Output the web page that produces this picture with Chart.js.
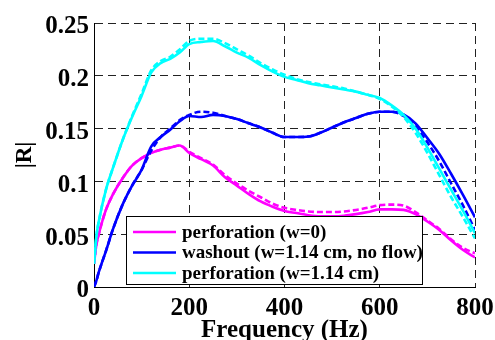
<!DOCTYPE html>
<html><head><meta charset="utf-8">
<script src="https://cdn.jsdelivr.net/npm/chart.js@4"></script>
<style>html,body{margin:0;padding:0;background:#fff}canvas{display:block}</style>
</head><body>
<canvas id="c" width="495" height="340"></canvas>
<script>
const freqHz = [0,5,10,25,40,60,80,100,120,140,160,180,200,225,250,275,300,325,350,375,400,425,450,475,500,525,550,575,600,625,650,675,700,725,750,775,800];

const perfW0Solid   = [0.022,0.040,0.050,0.073,0.088,0.103,0.115,0.122,0.127,0.130,0.132,0.134,0.127,0.121,0.115,0.104,0.096,0.088,0.081,0.076,0.072,0.070,0.068,0.067,0.067,0.0675,0.069,0.071,0.0735,0.0735,0.073,0.069,0.062,0.054,0.044,0.035,0.028];
const perfW0Dashed  = [0.022,0.040,0.050,0.073,0.088,0.103,0.115,0.122,0.127,0.130,0.132,0.134,0.128,0.122,0.116,0.106,0.098,0.091,0.085,0.079,0.075,0.073,0.0715,0.071,0.071,0.0715,0.073,0.075,0.0775,0.078,0.077,0.071,0.063,0.055,0.045,0.037,0.032];
const washSolid     = [0.000,0.006,0.014,0.034,0.055,0.078,0.096,0.111,0.133,0.142,0.149,0.157,0.162,0.161,0.163,0.162,0.159,0.155,0.151,0.146,0.142,0.142,0.1425,0.146,0.151,0.156,0.160,0.164,0.166,0.166,0.1635,0.155,0.141,0.126,0.107,0.087,0.066];
const washDashed    = [0.000,0.006,0.014,0.034,0.055,0.078,0.096,0.111,0.129,0.142,0.150,0.158,0.163,0.166,0.165,0.162,0.159,0.155,0.151,0.146,0.142,0.142,0.1425,0.146,0.151,0.156,0.160,0.164,0.166,0.166,0.162,0.152,0.137,0.119,0.098,0.077,0.054];
const perfW114Solid = [0.022,0.048,0.062,0.092,0.113,0.139,0.161,0.181,0.203,0.212,0.216,0.222,0.230,0.232,0.233,0.228,0.222,0.217,0.210,0.204,0.199,0.196,0.193,0.191,0.189,0.187,0.185,0.182,0.179,0.172,0.163,0.150,0.132,0.112,0.092,0.072,0.051];
const perfW114Dashed= [0.022,0.048,0.062,0.092,0.113,0.139,0.162,0.183,0.205,0.214,0.218,0.225,0.233,0.235,0.235,0.231,0.225,0.219,0.212,0.206,0.201,0.197,0.194,0.192,0.190,0.188,0.185,0.182,0.178,0.171,0.161,0.146,0.127,0.106,0.085,0.066,0.046];

const legendLabels = ['perforation (w=0)', 'washout (w=1.14 cm, no flow)', 'perforation (w=1.14 cm)'];
const xTickValues = [0,200,400,600,800];
const xTickLabels = ['0','200','400','600','800'];
const yTickValues = [0,0.05,0.1,0.15,0.2,0.25];
const yTickLabels = ['0','0.05','0.1','0.15','0.2','0.25'];
const xTitle = 'Frequency (Hz)';
const yTitle = '|R|';

const MAG = '#ff00ff', BLUE = '#0000ff', CYAN = '#00ffff';
const SERIF = '"Liberation Serif", "Times New Roman", serif';

function pts(ys){ return freqHz.map((x,i)=>({x:x, y:ys[i]})); }
function ds(label, ys, color, dashed, inLegend){
  return {label, data: pts(ys), borderColor: color, backgroundColor: color,
    borderWidth: 2.6, borderDash: dashed ? [6,3] : [], pointRadius: 0,
    cubicInterpolationMode: 'monotone', fill: false, inLegend};
}

const legendPlugin = {
  id: 'boxLegend',
  afterDatasetsDraw(chart){
    const ctx = chart.ctx, ca = chart.chartArea;
    const items = chart.data.datasets.filter(d => d.inLegend).reverse();
    const bx = ca.left + 32, by = ca.top + 193, bw = 296, bh = 68;
    ctx.save();
    ctx.fillStyle = '#fff';
    ctx.fillRect(bx, by, bw, bh);
    ctx.strokeStyle = '#000'; ctx.lineWidth = 1; ctx.setLineDash([]);
    ctx.strokeRect(bx + 0.5, by + 0.5, bw, bh);
    ctx.font = 'bold 19px ' + SERIF;
    ctx.textBaseline = 'middle'; ctx.textAlign = 'left';
    items.forEach((d, i) => {
      const yy = by + 16 + i * 20.5;
      ctx.strokeStyle = d.borderColor; ctx.lineWidth = 2.5;
      ctx.beginPath(); ctx.moveTo(bx + 7, yy); ctx.lineTo(bx + 50, yy); ctx.stroke();
      ctx.fillStyle = '#000';
      ctx.fillText(d.label, bx + 56, yy + 1);
    });
    ctx.restore();
  }
};

new Chart(document.getElementById('c'), {
  type: 'line',
  data: { datasets: [
    ds(legendLabels[2], perfW114Dashed, CYAN, true, false),
    ds(legendLabels[2], perfW114Solid, CYAN, false, true),
    ds(legendLabels[1], washDashed, BLUE, true, false),
    ds(legendLabels[1], washSolid, BLUE, false, true),
    ds(legendLabels[0], perfW0Dashed, MAG, true, false),
    ds(legendLabels[0], perfW0Solid, MAG, false, true)
  ] },
  options: {
    responsive: false, animation: false, devicePixelRatio: 1,
    layout: { padding: { left: 0, right: 20, top: 23, bottom: 0 } },
    plugins: { legend: { display: false }, tooltip: { enabled: false } },
    scales: {
      x: {
        type: 'linear', min: 0, max: 800,
        afterBuildTicks: s => { s.ticks = xTickValues.map(v => ({value: v})); },
        afterFit: s => { s.height = 53; s.paddingLeft = 0; s.paddingRight = 0; },
        grid: { color: '#222', lineWidth: 1, drawTicks: false },
        border: { display: true, color: '#000', width: 1, dash: [8,5] },
        ticks: { padding: 7, color: '#000', callback: (v, i) => xTickLabels[i],
                 font: { family: SERIF, size: 25, weight: 'bold', lineHeight: 1.2 } },
        title: { display: true, text: xTitle, color: '#000', padding: { top: 0, bottom: 0 },
                 font: { family: SERIF, size: 25, weight: 'bold', lineHeight: 0.78 } }
      },
      y: {
        type: 'linear', min: 0, max: 0.25,
        afterBuildTicks: s => { s.ticks = yTickValues.map(v => ({value: v})); },
        afterFit: s => { s.width = 94; s.paddingTop = 0; s.paddingBottom = 0; },
        grid: { color: '#222', lineWidth: 1, drawTicks: false },
        border: { display: true, color: '#000', width: 1, dash: [8,5] },
        ticks: { padding: 5, labelOffset: 4, color: '#000', callback: (v, i) => yTickLabels[i],
                 font: { family: SERIF, size: 25, weight: 'bold', lineHeight: 1.2 } },
        title: { display: true, text: yTitle, color: '#000', padding: { top: 14, bottom: 0 },
                 font: { family: SERIF, size: 23, weight: 'bold', lineHeight: 1 } }
      }
    }
  },
  plugins: [legendPlugin]
});
</script>
</body></html>
